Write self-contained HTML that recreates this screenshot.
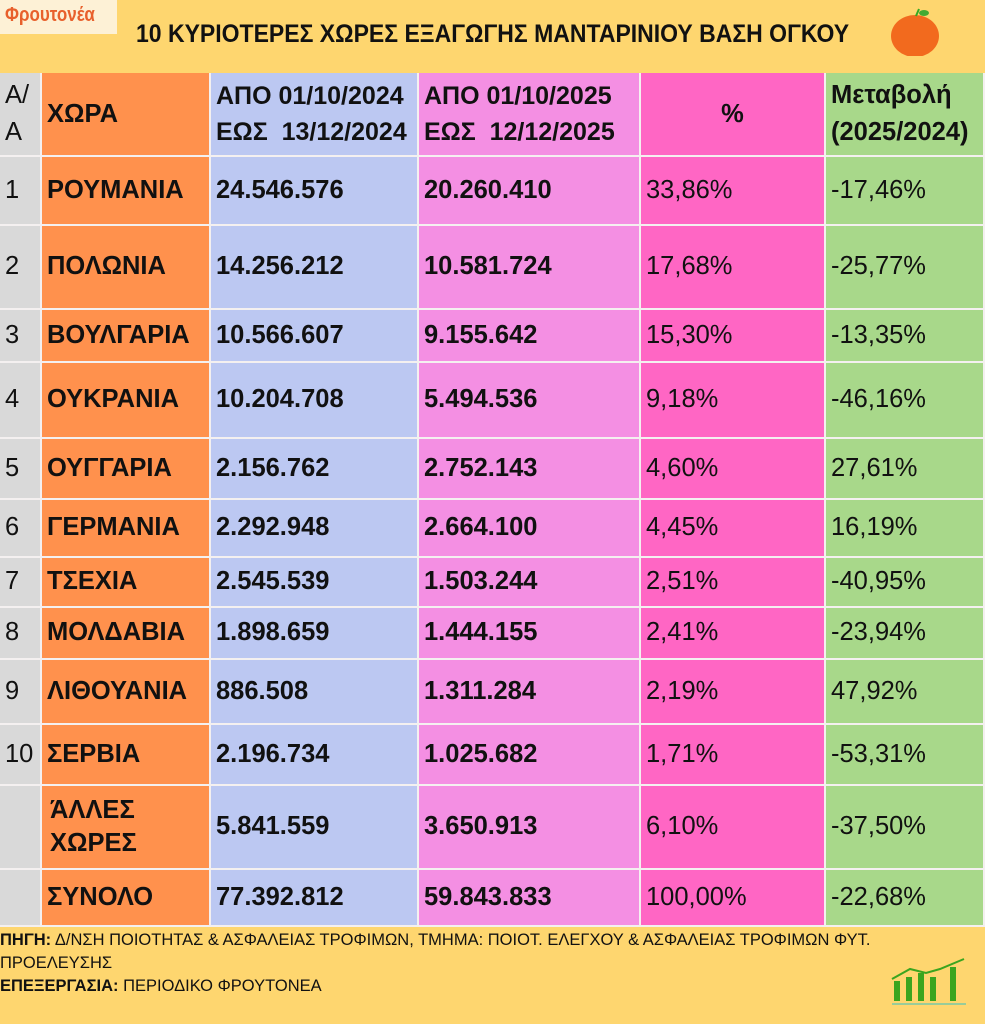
<!DOCTYPE html><html><head><meta charset="utf-8"><style>
body{margin:0;width:985px;height:1024px;background:#FED66F;position:relative;overflow:hidden;font-family:"Liberation Sans",sans-serif;}
.c{position:absolute;box-sizing:border-box;display:flex;align-items:center;font-size:25.5px;color:#111;padding-left:5px;line-height:1.3;border-right:2px solid #f4f0f0;border-bottom:2px solid #f4f0f0;white-space:nowrap}
.b{font-weight:bold}
</style></head><body>
<div style="position:absolute;left:0;top:0;width:117px;height:34px;background:#FDF1D6"></div>
<div style="position:absolute;left:5px;top:4px;font:bold 20px 'Liberation Sans',sans-serif;color:#E8602C;transform:scaleX(.85);transform-origin:left">Φρουτονέα</div>
<div style="position:absolute;left:136px;top:20px;font:bold 25px 'Liberation Sans',sans-serif;color:#111;transform:scaleX(.92);transform-origin:left;white-space:nowrap">10 ΚΥΡΙΟΤΕΡΕΣ ΧΩΡΕΣ ΕΞΑΓΩΓΗΣ ΜΑΝΤΑΡΙΝΙΟΥ ΒΑΣΗ ΟΓΚΟΥ</div>
<svg style="position:absolute;left:886px;top:6px" width="60" height="50"><ellipse cx="29" cy="30" rx="24" ry="21" fill="#F26A1E"/><path d="M30 10 L33 3" stroke="#3a2" stroke-width="2"/><ellipse cx="38" cy="7" rx="5" ry="3" fill="#4a3"/></svg>
<div id="t"></div>
<div style="position:absolute;left:0;top:929px;font-size:16.5px;color:#111;line-height:23px;width:985px;white-space:nowrap"><b>ΠΗΓΗ:</b> Δ/ΝΣΗ ΠΟΙΟΤΗΤΑΣ &amp; ΑΣΦΑΛΕΙΑΣ ΤΡΟΦΙΜΩΝ, ΤΜΗΜΑ: ΠΟΙΟΤ. ΕΛΕΓΧΟΥ &amp; ΑΣΦΑΛΕΙΑΣ ΤΡΟΦΙΜΩΝ ΦΥΤ.<br>ΠΡΟΕΛΕΥΣΗΣ<br><b>ΕΠΕΞΕΡΓΑΣΙΑ:</b> ΠΕΡΙΟΔΙΚΟ ΦΡΟΥΤΟΝΕΑ</div>
<svg style="position:absolute;left:890px;top:955px" width="80" height="50"><g fill="#3BA51F"><rect x="4" y="26" width="6" height="20"/><rect x="16" y="22" width="6" height="24"/><rect x="28" y="18" width="6" height="28"/><rect x="40" y="22" width="6" height="24"/><rect x="60" y="12" width="6" height="34"/></g><path d="M2 24 L20 14 L36 18 L50 14 L74 4" stroke="#3BA51F" stroke-width="2" fill="none"/><rect x="2" y="48" width="74" height="2" fill="#9c9"/></svg>
<script>
var xs=[0,42,211,419,641,826,985],bg=['#D9D9D9','#FF914D','#BCC8F2','#F48FE3','#FF66C4','#A8D88A'];
var ys=[73,157,226,310,363,439,500,558,608,660,725,786,870,927];
var rows=[["Α/<br>Α","ΧΩΡΑ","ΑΠΟ 01/10/2024<br>ΕΩΣ&nbsp; 13/12/2024","ΑΠΟ 01/10/2025<br>ΕΩΣ&nbsp; 12/12/2025","%","Μεταβολή<br>(2025/2024)"],
["1","ΡΟΥΜΑΝΙΑ","24.546.576","20.260.410","33,86%","-17,46%"],
["2","ΠΟΛΩΝΙΑ","14.256.212","10.581.724","17,68%","-25,77%"],
["3","ΒΟΥΛΓΑΡΙΑ","10.566.607","9.155.642","15,30%","-13,35%"],
["4","ΟΥΚΡΑΝΙΑ","10.204.708","5.494.536","9,18%","-46,16%"],
["5","ΟΥΓΓΑΡΙΑ","2.156.762","2.752.143","4,60%","27,61%"],
["6","ΓΕΡΜΑΝΙΑ","2.292.948","2.664.100","4,45%","16,19%"],
["7","ΤΣΕΧΙΑ","2.545.539","1.503.244","2,51%","-40,95%"],
["8","ΜΟΛΔΑΒΙΑ","1.898.659","1.444.155","2,41%","-23,94%"],
["9","ΛΙΘΟΥΑΝΙΑ","886.508","1.311.284","2,19%","47,92%"],
["10","ΣΕΡΒΙΑ","2.196.734","1.025.682","1,71%","-53,31%"],
["","ΆΛΛΕΣ<br>ΧΩΡΕΣ","5.841.559","3.650.913","6,10%","-37,50%"],
["","ΣΥΝΟΛΟ","77.392.812","59.843.833","100,00%","-22,68%"]];
var h='';
rows.forEach(function(r,i){r.forEach(function(t,j){
var cls='c'+((j==1||j==2||j==3||(i==0&&j>0))?' b':'');
var st='left:'+xs[j]+'px;top:'+ys[i]+'px;width:'+(xs[j+1]-xs[j])+'px;height:'+(ys[i+1]-ys[i])+'px;background:'+bg[j]+';';
if(i==0)st+='line-height:1.45;';
if(i==0&&(j==2||j==3))st+='font-size:25px;';
if(i==0&&j==4)st+='justify-content:center;padding-left:0;';
if(i==11&&j==1)st+='padding-left:8px;';
h+='<div class="'+cls+'" style="'+st+'">'+t+'</div>';});});
document.getElementById('t').innerHTML=h;
</script>
</body></html>
